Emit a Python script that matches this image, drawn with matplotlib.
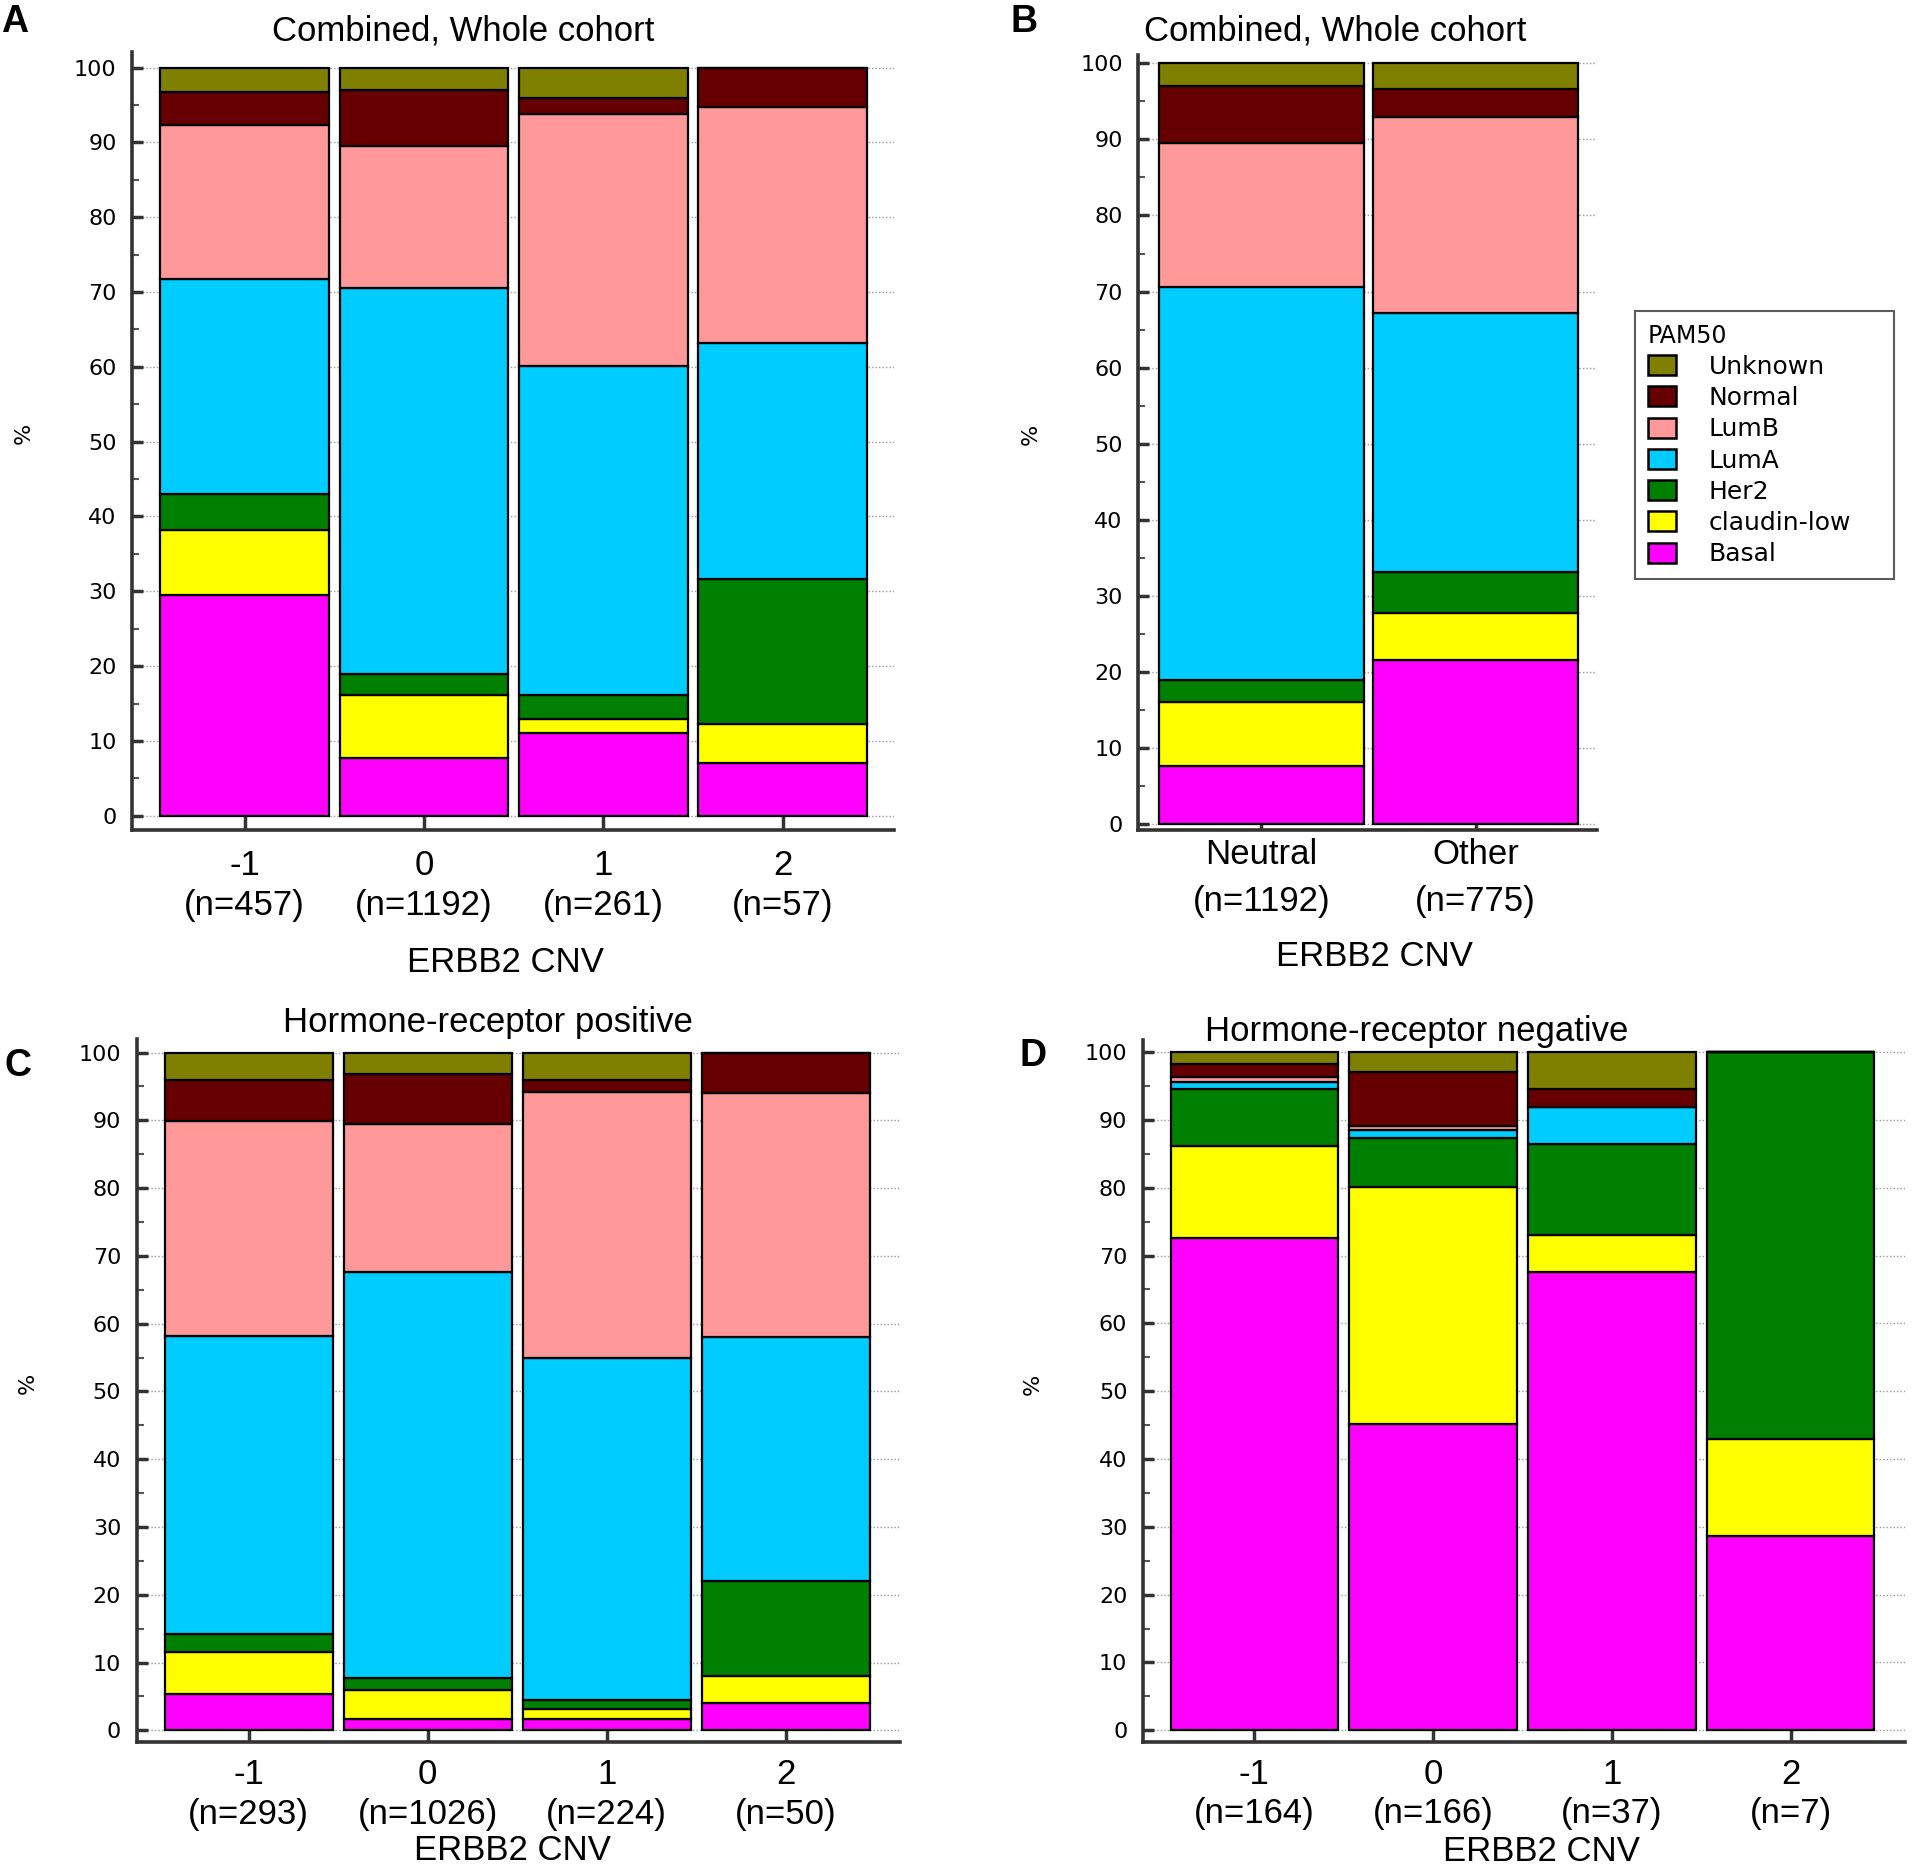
import matplotlib
matplotlib.use('Agg')
import matplotlib.pyplot as plt
from matplotlib.patches import Patch
from matplotlib.ticker import MultipleLocator

# PAM50 subtypes, stacked bottom -> top
subtypes = ['Basal', 'claudin-low', 'Her2', 'LumA', 'LumB', 'Normal', 'Unknown']
colors = ['#FF00FF', '#FFFF00', '#008000', '#00CCFF', '#FF9999', '#660000', '#808000']

# A: combined, whole cohort (rows follow subtypes)
a_groups = ['-1', '0', '1', '2']
a_n = [457, 1192, 261, 57]
a_pct = [
    [29.5, 7.7, 11.0, 7.0],
    [8.7, 8.4, 1.9, 5.3],
    [4.8, 2.9, 3.2, 19.3],
    [28.7, 51.6, 44.0, 31.6],
    [20.6, 18.9, 33.7, 31.5],
    [4.4, 7.5, 2.1, 5.3],
    [3.3, 3.0, 4.1, 0.0],
]

# B: neutral vs other
b_groups = ['Neutral', 'Other']
b_n = [1192, 775]
b_pct = [
    [7.7, 21.6],
    [8.4, 6.1],
    [2.9, 5.4],
    [51.6, 34.1],
    [18.9, 25.8],
    [7.5, 3.6],
    [3.0, 3.4],
]

# C: hormone-receptor positive
c_groups = ['-1', '0', '1', '2']
c_n = [293, 1026, 224, 50]
c_pct = [
    [5.4, 1.7, 1.7, 4.0],
    [6.1, 4.2, 1.4, 4.0],
    [2.7, 1.9, 1.4, 14.0],
    [44.0, 59.8, 50.5, 36.0],
    [31.7, 21.9, 39.2, 36.0],
    [6.0, 7.4, 1.7, 6.0],
    [4.1, 3.1, 4.1, 0.0],
]

# D: hormone-receptor negative
d_groups = ['-1', '0', '1', '2']
d_n = [164, 166, 37, 7]
d_pct = [
    [72.6, 45.2, 67.6, 28.6],
    [13.5, 34.9, 5.4, 14.3],
    [8.4, 7.2, 13.5, 57.1],
    [1.1, 1.2, 5.4, 0.0],
    [0.7, 0.6, 0.0, 0.0],
    [1.9, 7.9, 2.7, 0.0],
    [1.8, 3.0, 5.4, 0.0],
]

plt.rcParams['font.family'] = ['Liberation Sans', 'DejaVu Sans']

fig = plt.figure(figsize=(19.12, 18.68), dpi=100)


def draw_panel(rect, pct, groups, ns, xlim, ylim, width, pad, linesp, ylab_x):
    ax = fig.add_axes(rect)
    x = list(range(len(groups)))
    bottom = [0.0] * len(groups)
    for row, col in zip(pct, colors):
        ax.bar(x, row, width=width, bottom=bottom, color=col,
               edgecolor='black', linewidth=1.6, zorder=3)
        bottom = [b + v for b, v in zip(bottom, row)]
    ax.set_xlim(*xlim)
    ax.set_ylim(*ylim)
    for s in ['top', 'right']:
        ax.spines[s].set_visible(False)
    for s in ['left', 'bottom']:
        ax.spines[s].set_color('#333333')
        ax.spines[s].set_linewidth(2.6)
    ax.set_yticks(range(0, 101, 10))
    ax.yaxis.set_minor_locator(MultipleLocator(5))
    ax.tick_params(axis='y', which='major', direction='in', length=8, width=2.5,
                   color='#333333', labelsize=16, pad=11)
    ax.tick_params(axis='y', which='minor', direction='in', length=5, width=1.5,
                   color='#555555')
    for t in ax.get_yticklabels():
        t.set_fontfamily('DejaVu Sans')
    ax.set_xticks(x)
    ax.set_xticklabels([f'{g}\n(n={n})' for g, n in zip(groups, ns)],
                       fontsize=25, linespacing=linesp)
    ax.tick_params(axis='x', direction='in', length=13, width=2.5,
                   color='#333333', pad=pad)
    ax.grid(axis='y', which='major', linestyle=(0, (1, 1.5)), color='#9a9a9a',
            linewidth=1.0, zorder=0)
    ax.set_axisbelow(True)
    ax.set_ylabel('%', fontsize=16, fontfamily='DejaVu Sans')
    ax.yaxis.set_label_coords(ylab_x, 0.51)
    return ax


ax_a = draw_panel([0.0690, 0.5557, 0.3985, 0.4165], a_pct, a_groups, a_n,
                  (-0.629, 3.62), (-1.9, 102.1), 0.94, 14, 1.27, -0.129)
ax_b = draw_panel([0.5952, 0.5555, 0.2401, 0.4151], b_pct, b_groups, b_n,
                  (-0.575, 1.567), (-0.8, 101.1), 0.955, 5.5, 1.53, -0.211)
ax_c = draw_panel([0.0714, 0.0675, 0.3993, 0.3761], c_pct, c_groups, c_n,
                  (-0.627, 3.638), (-1.7, 101.95), 0.94, 11.5, 1.27, -0.130)
ax_d = draw_panel([0.5976, 0.0672, 0.3986, 0.3761], d_pct, d_groups, d_n,
                  (-0.624, 3.637), (-1.8, 101.8), 0.935, 11.5, 1.23, -0.131)

# titles, panel letters, axis labels
fig.text(0.2422, 0.9832, 'Combined, Whole cohort', fontsize=25, ha='center', va='center')
fig.text(0.6982, 0.9832, 'Combined, Whole cohort', fontsize=25, ha='center', va='center')
fig.text(0.2552, 0.4525, 'Hormone-receptor positive', fontsize=25, ha='center', va='center')
fig.text(0.7411, 0.4477, 'Hormone-receptor negative', fontsize=25, ha='center', va='center')

fig.text(0.0078, 0.9882, 'A', fontsize=27, fontweight='bold', ha='center', va='center')
fig.text(0.5356, 0.9882, 'B', fontsize=27, fontweight='bold', ha='center', va='center')
fig.text(0.0094, 0.4293, 'C', fontsize=27, fontweight='bold', ha='center', va='center')
fig.text(0.5403, 0.4348, 'D', fontsize=27, fontweight='bold', ha='center', va='center')

fig.text(0.2646, 0.4845, 'ERBB2 CNV', fontsize=25, ha='center', va='center')
fig.text(0.7191, 0.4882, 'ERBB2 CNV', fontsize=25, ha='center', va='center')
fig.text(0.2678, 0.0092, 'ERBB2 CNV', fontsize=25, ha='center', va='center')
fig.text(0.8060, 0.0090, 'ERBB2 CNV', fontsize=25, ha='center', va='center')

handles = [Patch(facecolor=c, edgecolor='black', linewidth=1.8, label=s)
           for s, c in zip(subtypes, colors)][::-1]
leg = fig.legend(handles=handles, title='PAM50', loc='upper left',
                 bbox_to_anchor=(0.8552, 0.6950, 0.1353, 0.1385), mode='expand',
                 frameon=True, fancybox=False,
                 edgecolor='#333333', prop={'family': 'DejaVu Sans', 'size': 18},
                 title_fontproperties={'family': 'DejaVu Sans', 'size': 17},
                 alignment='left', handlelength=1.15, handleheight=0.85,
                 handletextpad=1.3, labelspacing=0.29, borderpad=0.5,
                 borderaxespad=0)
leg.get_frame().set_linewidth(1.5)

fig.savefig('out.png', dpi=100)
